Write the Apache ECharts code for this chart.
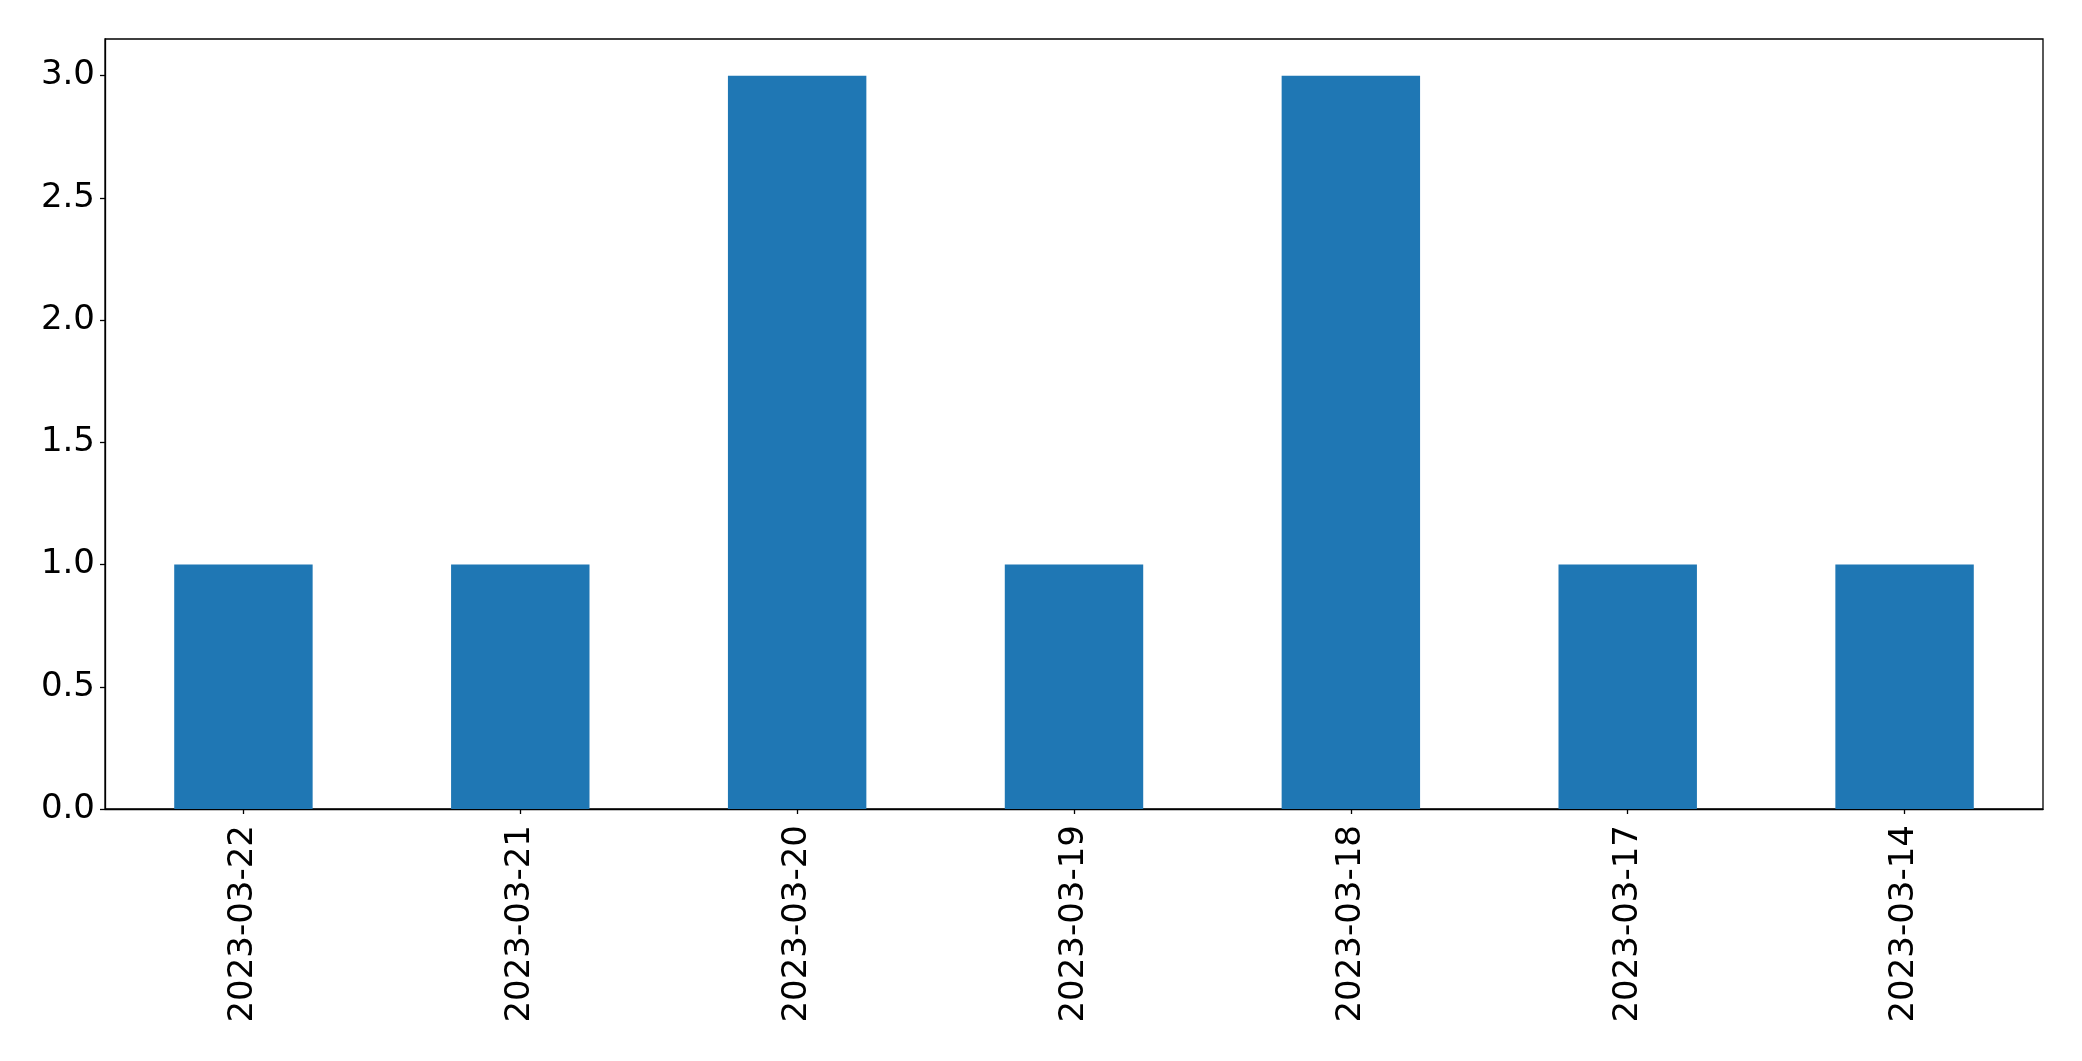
<!DOCTYPE html>
<html>
<head>
<meta charset="utf-8">
<script src="https://cdn.jsdelivr.net/npm/echarts@6/dist/echarts.min.js"></script>
<style>
html,body{margin:0;padding:0;background:#fff;}
#c{width:2082px;height:1061px;}
</style>
</head>
<body>
<div id="c"></div>
<script>
const categories = ['2023-03-22','2023-03-21','2023-03-20','2023-03-19','2023-03-18','2023-03-17','2023-03-14'];
const counts = [1, 1, 3, 1, 3, 1, 1];
const yTickValues = [0, 0.5, 1, 1.5, 2, 2.5, 3];

const chart = echarts.init(document.getElementById('c'), null, {renderer: 'canvas'});
const font = 'DejaVu Sans';
chart.setOption({
  animation: false,
  backgroundColor: '#ffffff',
  grid: {left: 105, top: 39, width: 1938, height: 770, show: true, borderColor: '#000', borderWidth: 1.3, backgroundColor: 'transparent'},
  xAxis: {
    type: 'category',
    data: categories,
    boundaryGap: true,
    axisLine: {show: true, lineStyle: {color: '#000', width: 1.3}},
    axisTick: {show: true, alignWithLabel: true, length: 5, lineStyle: {color: '#000', width: 1.3}},
    axisLabel: {rotate: 90, margin: 16, color: '#000', fontFamily: font, fontSize: 34},
    splitLine: {show: false}
  },
  yAxis: {
    type: 'value',
    min: 0,
    max: 3.15,
    interval: 0.5,
    axisLine: {show: true, lineStyle: {color: '#000', width: 1.3}},
    axisTick: {show: true, length: 5, lineStyle: {color: '#000', width: 1.3}},
    axisLabel: {
      margin: 10, color: '#000', fontFamily: font, fontSize: 34,
      showMaxLabel: false,
      formatter: function (v) {
        const ok = yTickValues.some(t => Math.abs(t - v) < 1e-9);
        return ok ? v.toFixed(1) : '';
      }
    },
    splitLine: {show: false}
  },
  series: [{
    type: 'bar',
    data: counts,
    barWidth: '50%',
    itemStyle: {color: '#1f77b4'}
  }]
});
</script>
</body>
</html>
